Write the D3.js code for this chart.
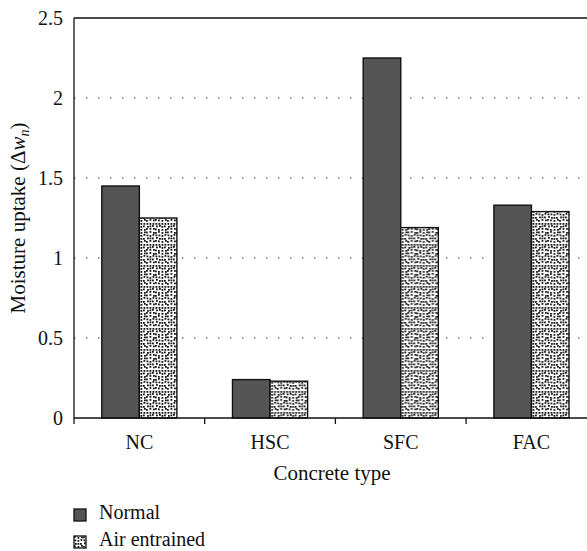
<!DOCTYPE html>
<html lang="en">
<head>
<meta charset="UTF-8">
<title>moisture-uptake</title>
<style>
  body { margin: 0; background: #fff; }
  text { font-family: "Liberation Serif", "DejaVu Serif", serif; fill: #111; }
</style>
</head>
<body>
<div id="container"></div>
<script src="https://cdn.jsdelivr.net/npm/d3@7"></script>
<script>
var categories = ["NC", "HSC", "SFC", "FAC"];
var series = ["Normal", "Air entrained"];
var normal = [1.45, 0.24, 2.25, 1.33];
var airEntrained = [1.25, 0.23, 1.19, 1.29];
var yTicks = [0, 0.5, 1, 1.5, 2, 2.5];

var width = 587, height = 551;
var plotLeft = 74, plotTop = 18, plotBottom = 418, plotRight = 74 + 4 * 130.7;
var fontSize = "20px", titleSize = "21px";

var svg = d3.select("#container").append("svg")
    .attr("width", width)
    .attr("height", height);

// stipple fill for air entrained bars
var defs = svg.append("defs");
var pat = defs.append("pattern")
    .attr("id", "stipple")
    .attr("patternUnits", "userSpaceOnUse")
    .attr("width", 21).attr("height", 21);
pat.append("rect").attr("width", 21).attr("height", 21).attr("fill", "#fff");
for (var i = 0; i < 7; i++) {
  for (var j = 0; j < 7; j++) {
    var h = (i * 7 + j * 13 + i * j * 5) % 9;
    pat.append("rect")
        .attr("x", i * 3 + (h % 3) * 0.5)
        .attr("y", j * 3 + Math.floor(h / 3) * 0.5)
        .attr("width", 1.8).attr("height", 1.8)
        .attr("fill", "#1a1a1a");
  }
}

var x0 = d3.scaleBand()
    .domain(categories)
    .range([plotLeft, plotRight]);

var x1 = d3.scaleBand()
    .domain(series)
    .range([0, x0.bandwidth()])
    .paddingOuter(0.74);

var y = d3.scaleLinear()
    .domain([0, 2.5])
    .range([plotBottom, plotTop]);

var fills = { "Normal": "#555555", "Air entrained": "url(#stipple)" };

// dotted grid
svg.append("g")
  .selectAll("line")
  .data(yTicks.filter(function(d) { return d > 0 && d < 2.5; }))
  .enter().append("line")
    .attr("x1", plotLeft).attr("x2", plotRight)
    .attr("y1", function(d) { return y(d); })
    .attr("y2", function(d) { return y(d); })
    .attr("stroke", "#777")
    .attr("stroke-width", 1.4)
    .attr("stroke-dasharray", "1.4,10.6");

// top frame line
svg.append("line")
    .attr("x1", plotLeft).attr("x2", plotRight)
    .attr("y1", y(2.5)).attr("y2", y(2.5))
    .attr("stroke", "#111").attr("stroke-width", 1.3);

var rows = categories.map(function(c, i) {
  return { cat: c, vals: [{ key: "Normal", value: normal[i] }, { key: "Air entrained", value: airEntrained[i] }] };
});

svg.append("g")
  .selectAll("g")
  .data(rows)
  .enter().append("g")
    .attr("transform", function(d) { return "translate(" + x0(d.cat) + ",0)"; })
  .selectAll("rect")
  .data(function(d) { return d.vals; })
  .enter().append("rect")
    .attr("x", function(d) { return x1(d.key); })
    .attr("y", function(d) { return y(d.value); })
    .attr("width", x1.bandwidth())
    .attr("height", function(d) { return y(0) - y(d.value); })
    .attr("fill", function(d) { return fills[d.key]; })
    .attr("stroke", "#111")
    .attr("stroke-width", 1.4);

// y axis
var yAxis = svg.append("g")
    .attr("transform", "translate(" + plotLeft + ",0)")
    .call(d3.axisLeft(y).tickValues(yTicks).tickSize(0).tickPadding(11)
      .tickFormat(function(d) { return String(d); }));
yAxis.select(".domain").remove();
yAxis.selectAll("text")
    .style("font-size", fontSize)
    .style("font-family", "'Liberation Serif', serif")
    .attr("fill", "#111");

svg.append("line")
    .attr("x1", plotLeft).attr("x2", plotLeft)
    .attr("y1", plotTop).attr("y2", plotBottom + 6)
    .attr("stroke", "#111").attr("stroke-width", 1.3);

// x axis
svg.append("line")
    .attr("x1", plotLeft).attr("x2", plotRight)
    .attr("y1", plotBottom).attr("y2", plotBottom)
    .attr("stroke", "#111").attr("stroke-width", 1.3);

svg.append("g")
  .selectAll("line")
  .data(categories.slice(1))
  .enter().append("line")
    .attr("x1", function(d) { return x0(d); })
    .attr("x2", function(d) { return x0(d); })
    .attr("y1", plotBottom).attr("y2", plotBottom + 6)
    .attr("stroke", "#111").attr("stroke-width", 1.3);

svg.append("g")
  .selectAll("text")
  .data(categories)
  .enter().append("text")
    .attr("x", function(d) { return x0(d) + x0.bandwidth() / 2; })
    .attr("y", 449)
    .attr("text-anchor", "middle")
    .style("font-size", fontSize)
    .text(function(d) { return d; });

svg.append("text")
    .attr("x", 332).attr("y", 480)
    .attr("text-anchor", "middle")
    .style("font-size", titleSize)
    .text("Concrete type");

// y title
var yt = svg.append("text")
    .attr("transform", "translate(25,218) rotate(-90)")
    .attr("text-anchor", "middle")
    .style("font-size", titleSize);
yt.append("tspan").text("Moisture uptake (\u0394");
yt.append("tspan").style("font-style", "italic").text("w");
yt.append("tspan").style("font-style", "italic").style("font-size", "14px")
    .attr("dy", 4).text("n");
yt.append("tspan").attr("dy", -4).text(")");

// legend
var legend = svg.append("g")
  .selectAll("g")
  .data(series)
  .enter().append("g")
    .attr("transform", function(d, i) { return "translate(74," + (509 + i * 27) + ")"; });

legend.append("rect")
    .attr("width", 12).attr("height", 12)
    .attr("fill", function(d) { return fills[d]; })
    .attr("stroke", "#111").attr("stroke-width", 1.3);

legend.append("text")
    .attr("x", 25).attr("y", 10)
    .style("font-size", fontSize)
    .text(function(d) { return d; });
</script>
</body>
</html>
